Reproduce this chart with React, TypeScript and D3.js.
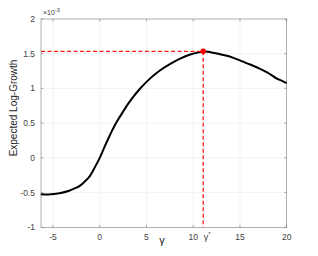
import * as d3 from "d3";
import * as React from "react";

// curve (gamma, expected log-growth x1e-3)
const gammas = [-6.3, -5.5, -4.3, -3.2, -2.5, -2.1, -1.6, -1.1, -0.5, 0, 0.5, 1.1, 1.6, 2.1, 3.2, 4.3, 5.4, 6.4, 7.5, 8.6, 9.6, 10.5, 11.0, 11.6, 12.1, 12.8, 13.6, 14.3, 15, 15.7, 16.4, 17.1, 17.9, 18.5, 18.9, 19.5, 20];
const growth = [-0.524, -0.528, -0.51, -0.47, -0.43, -0.40, -0.34, -0.27, -0.13, 0.0, 0.155, 0.33, 0.465, 0.58, 0.81, 0.995, 1.145, 1.255, 1.35, 1.43, 1.485, 1.518, 1.53, 1.527, 1.515, 1.495, 1.47, 1.44, 1.405, 1.365, 1.327, 1.285, 1.23, 1.18, 1.145, 1.11, 1.077];

const xTicks = [-5, 0, 5, 10, 15, 20];
const yTicks = [-1, -0.5, 0, 0.5, 1, 1.5, 2];
const gammaStar = 11.07;
const growthStar = 1.535;

const W = 318;
const H = 256;
const m = { left: 41, top: 19, right: 31.3, bottom: 28.7 };
const tickColor = "#262626";
const labelColor = "#404040";

export default function App(): JSX.Element {
    const x = d3.scaleLinear().domain([-2 * Math.PI, 20]).range([m.left, W - m.right]);
    const y = d3.scaleLinear().domain([-1, 2]).range([H - m.bottom, m.top]);

    const pts: [number, number][] = gammas.map((g, i) => [g, growth[i]]);
    const line = d3.line<[number, number]>()
        .x(d => x(d[0]))
        .y(d => y(d[1]))
        .curve(d3.curveCatmullRom.alpha(0.5));

    const x0 = x.range()[0], x1 = x.range()[1];
    const y0 = y.range()[0], y1 = y.range()[1];
    const font = "Liberation Sans, Arial, sans-serif";

    return (
        <svg width={W} height={H} style={{ position: "absolute", left: 0, top: 0 }} fontFamily={font}>
            <rect x={x0} y={y1} width={x1 - x0} height={y0 - y1} fill="white" />
            {xTicks.filter(t => t < 20).map(t => (
                <line key={"gx" + t} x1={x(t)} x2={x(t)} y1={y0} y2={y1} stroke="#ebebeb" strokeWidth={0.6} />
            ))}
            {yTicks.filter(t => t > -1 && t < 2).map(t => (
                <line key={"gy" + t} x1={x0} x2={x1} y1={y(t)} y2={y(t)} stroke="#ebebeb" strokeWidth={0.6} />
            ))}
            <rect x={x0} y={y1} width={x1 - x0} height={y0 - y1} fill="none" stroke="#7a7a7a" strokeWidth={0.6} />
            {xTicks.map(t => (
                <g key={"tx" + t}>
                    <line x1={x(t)} x2={x(t)} y1={y0} y2={y0 - 2.5} stroke="#7a7a7a" strokeWidth={0.6} />
                    <line x1={x(t)} x2={x(t)} y1={y1} y2={y1 + 2.5} stroke="#7a7a7a" strokeWidth={0.6} />
                    <text x={x(t)} y={y0 + 13} fontSize={8.5} fill={labelColor} textAnchor="middle">{t}</text>
                </g>
            ))}
            <text x={x(gammaStar) + 4} y={y0 + 13} fontSize={9} fill={labelColor} textAnchor="middle">
                γ<tspan fontSize={6} dy={-4}>*</tspan>
            </text>
            {yTicks.map(t => (
                <g key={"ty" + t}>
                    <line x1={x0} x2={x0 + 2.5} y1={y(t)} y2={y(t)} stroke="#7a7a7a" strokeWidth={0.6} />
                    <line x1={x1} x2={x1 - 2.5} y1={y(t)} y2={y(t)} stroke="#7a7a7a" strokeWidth={0.6} />
                    <text x={x0 - 6} y={y(t) + 3} fontSize={8.5} fill={labelColor} textAnchor="end">{t}</text>
                </g>
            ))}
            <text x={x0 + 2} y={y1 - 4} fontSize={7} fill={labelColor}>
                ×10<tspan fontSize={5.5} dy={-3.5}>-3</tspan>
            </text>
            <text transform="translate(17,108) rotate(-90)" fontSize={10} fill={tickColor} textAnchor="middle">
                Expected Log-Growth
            </text>
            <text x={162} y={y0 + 17} fontSize={11} fill={tickColor} textAnchor="middle">γ</text>
            <path d={line(pts) ?? ""} fill="none" stroke="black" strokeWidth={2} />
            <line x1={x0} x2={x(gammaStar)} y1={y(growthStar)} y2={y(growthStar)} stroke="#ff1a1a" strokeWidth={1.3} strokeDasharray="4,2.5" />
            <line x1={x(gammaStar)} x2={x(gammaStar)} y1={y(growthStar)} y2={y0} stroke="#ff1a1a" strokeWidth={1.3} strokeDasharray="4,2.5" />
            <circle cx={x(gammaStar)} cy={y(growthStar)} r={2.8} fill="#ff0000" />
        </svg>
    );
}
